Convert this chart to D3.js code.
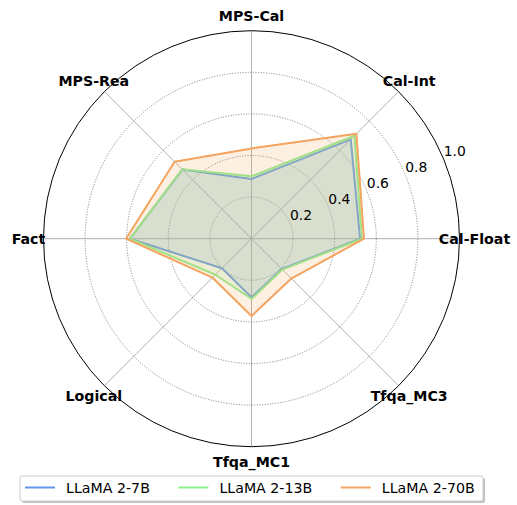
<!doctype html>
<html lang="en">
<head>
	<meta charset="utf-8">
	<title>LLaMA 2 radar</title>
	<script type="text/javascript" src="https://d3js.org/d3.v7.min.js"></script>
	<style>
		body { margin: 0; background: #fff; }
		text { font-family: "DejaVu Sans", sans-serif; }
	</style>
</head>
<body>
	<script type="text/javascript">
		var width = 517;
		var height = 505;

		// axes, clockwise from the top
		var categories = ["MPS-Cal", "Cal-Int", "Cal-Float", "Tfqa_MC3", "Tfqa_MC1", "Logical", "Fact", "MPS-Rea"];
		var seriesNames = ["LLaMA 2-7B", "LLaMA 2-13B", "LLaMA 2-70B"];
		var llama7b  = [0.287, 0.675, 0.522, 0.206, 0.282, 0.201, 0.584, 0.470];
		var llama13b = [0.300, 0.700, 0.531, 0.210, 0.290, 0.245, 0.584, 0.472];
		var llama70b = [0.434, 0.713, 0.541, 0.271, 0.372, 0.265, 0.603, 0.523];
		var colors = ["#6495ED", "#90EE90", "#F4A460"];
		var ticks = [0.2, 0.4, 0.6, 0.8, 1.0];

		var series = [llama7b, llama13b, llama70b];

		var cx = 251.5, cy = 238.7;

		var svg = d3.select("body")
			.append("svg")
			.attr("width", width)
			.attr("height", height);

		var r = d3.scaleLinear().domain([0, 1]).range([0, 208]);
		// angle in radians, 0 at top, clockwise
		var angle = d3.scaleLinear().domain([0, categories.length]).range([0, 2 * Math.PI]);

		var g = svg.append("g").attr("transform", "translate(" + cx + "," + cy + ")");

		// spokes
		g.selectAll("line.spoke")
			.data(categories)
			.enter()
			.append("line")
			.attr("class", "spoke")
			.attr("x1", 0).attr("y1", 0)
			.attr("x2", function(d, i) { return r(1) * Math.sin(angle(i)); })
			.attr("y2", function(d, i) { return -r(1) * Math.cos(angle(i)); })
			.style("stroke", "#b0b0b0")
			.style("stroke-width", 1);

		// dotted rings
		g.selectAll("circle.ring")
			.data(ticks.slice(0, -1))
			.enter()
			.append("circle")
			.attr("class", "ring")
			.attr("r", function(d) { return r(d); })
			.style("fill", "none")
			.style("stroke", "#7a7a7a")
			.style("stroke-width", 0.9)
			.style("stroke-dasharray", "1.1,1.5");

		// outer frame
		g.append("circle")
			.attr("r", r(1))
			.style("fill", "none")
			.style("stroke", "#000")
			.style("stroke-width", 1);

		var radial = d3.lineRadial()
			.angle(function(d, i) { return angle(i); })
			.radius(function(d) { return r(d); })
			.curve(d3.curveLinearClosed);

		// each series: line then translucent fill
		series.forEach(function(vals, k) {
			g.append("path")
				.attr("d", radial(vals))
				.style("fill", "none")
				.style("stroke", colors[k])
				.style("stroke-width", 2)
				.style("stroke-linejoin", "round");
			g.append("path")
				.attr("d", radial(vals))
				.style("fill", colors[k])
				.style("fill-opacity", 0.18)
				.style("stroke", "none");
		});

		// radial tick labels at 22.5 degrees
		var tickAng = 67.5 * Math.PI / 180;
		g.selectAll("text.tick")
			.data(ticks)
			.enter()
			.append("text")
			.attr("class", "tick")
			.attr("x", function(d) { return r(d) * Math.sin(tickAng); })
			.attr("y", function(d) { return -r(d) * Math.cos(tickAng) - 3; })
			.style("font-size", "13.9px")
			.style("fill", "#000")
			.text(function(d) { return d.toFixed(1); });

		// category labels
		g.selectAll("text.cat")
			.data(categories)
			.enter()
			.append("text")
			.attr("class", "cat")
			.attr("x", function(d, i) { return 223 * Math.sin(angle(i)); })
			.attr("y", function(d, i) { return -223 * Math.cos(angle(i)); })
			.attr("text-anchor", "middle")
			.attr("dy", "0.35em")
			.style("font-size", "14.2px")
			.style("font-weight", "bold")
			.text(function(d) { return d; });

		// legend
		var legend = svg.append("g").attr("transform", "translate(20,476)");
		legend.append("rect")
			.attr("x", 2).attr("y", 2)
			.attr("width", 463).attr("height", 25)
			.attr("rx", 2)
			.style("fill", "#999")
			.style("opacity", 0.6);
		legend.append("rect")
			.attr("width", 463).attr("height", 25)
			.attr("rx", 2)
			.style("fill", "#fff")
			.style("stroke", "#cccccc")
			.style("stroke-width", 1);

		var xpos = 5;
		seriesNames.forEach(function(name, k) {
			legend.append("line")
				.attr("x1", xpos).attr("x2", xpos + 30)
				.attr("y1", 11.5).attr("y2", 11.5)
				.style("stroke", colors[k])
				.style("stroke-width", 2);
			var t = legend.append("text")
				.attr("x", xpos + 41)
				.attr("y", 17)
				.style("font-size", "14.2px")
				.text(name);
			xpos = xpos + 41 + t.node().getComputedTextLength() + 28.5;
		});
	</script>
</body>
</html>
